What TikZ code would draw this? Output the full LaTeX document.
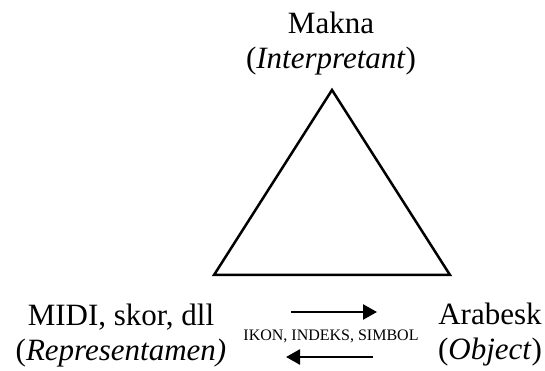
\documentclass[tikz,border=0pt]{standalone}
\usepackage{fontspec}
\setmainfont{Liberation Serif}
\usetikzlibrary{arrows.meta,positioning,calc}

\begin{document}
\begin{tikzpicture}[x=1pt,y=1pt,
	signtext/.style={align=center,font=\fontsize{31}{35}\selectfont,inner sep=0pt},
	relation/.style={line width=2.6pt,-{Triangle[length=14pt,width=15pt]}}]
	\useasboundingbox (0,0) rectangle (545,371);

	\coordinate (interp) at (332,281);
	\coordinate (repr) at (214,96);
	\coordinate (obj) at (450,96);
	\draw[line width=2.5pt,line join=miter] (repr) -- (interp) -- (obj) -- cycle;

	\node[signtext,anchor=base] (makna) at (331,302) {Makna\\(\textit{Interpretant})};
	\node[signtext,anchor=base] (midi) at (121,10) {MIDI, skor, dll\\(\textit{Representamen)}};
	\node[signtext,anchor=base] (arabesk) at (490,11) {Arabesk\\(\textit{Object})};

	\node[font=\fontsize{16}{18}\selectfont,inner sep=0pt,anchor=base] (ikon) at (331,30) {IKON, INDEKS, SIMBOL};

	\coordinate (toobj) at (377,59);
	\coordinate (fromrepr) at (291,59);
	\coordinate (torepr) at (286,14);
	\coordinate (fromobj) at (373,14);
	\draw[relation] (fromrepr) -- (toobj);
	\draw[relation] (fromobj) -- (torepr);
\end{tikzpicture}
\end{document}
